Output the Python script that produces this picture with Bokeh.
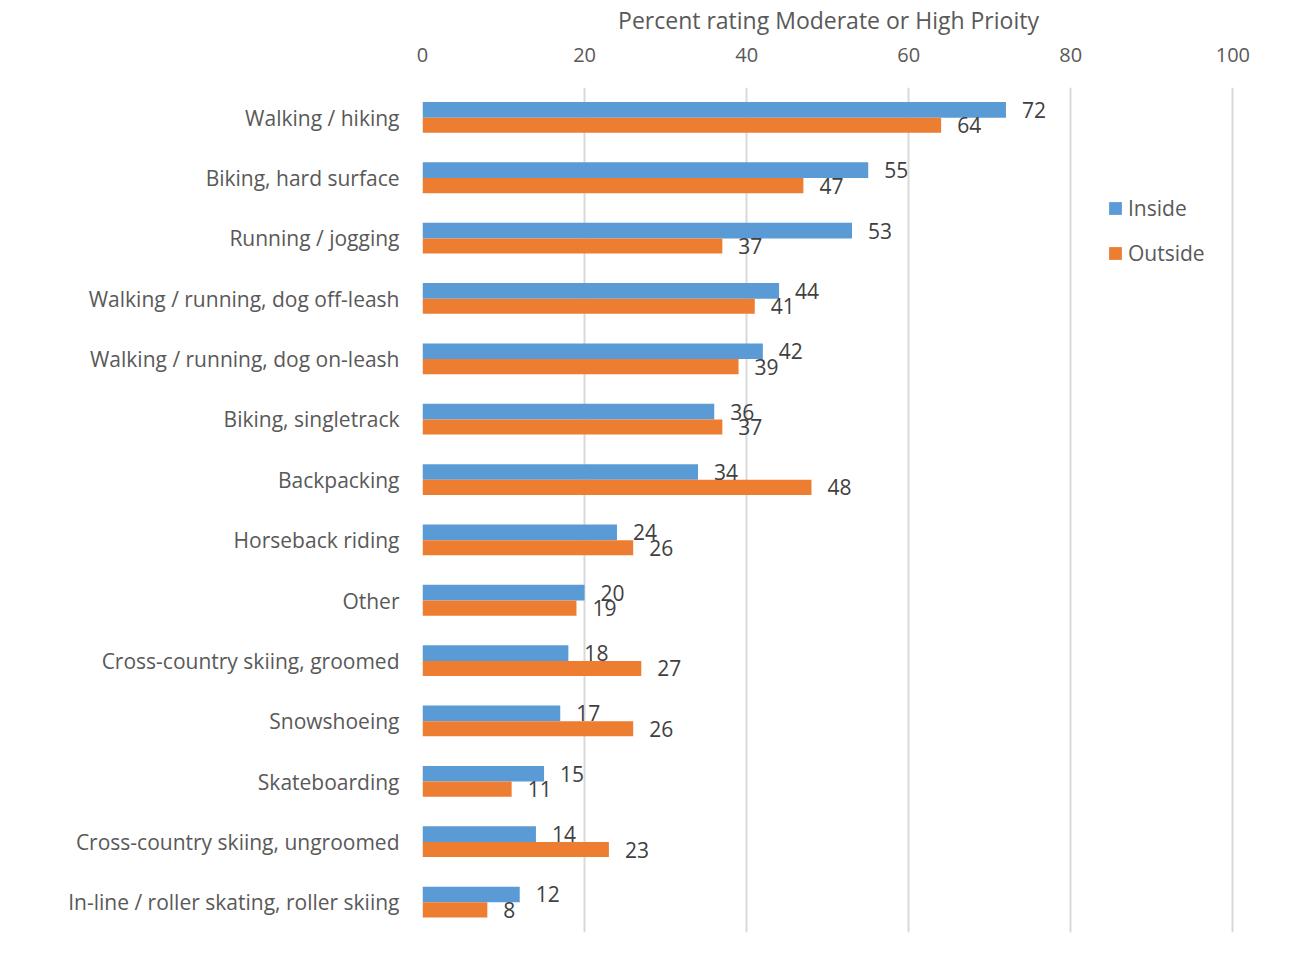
from bokeh.plotting import figure
from bokeh.models import ColumnDataSource, FactorRange, Range1d, Legend, LegendItem, FixedTicker
from bokeh.transform import dodge
from bokeh.core.properties import value
from bokeh.embed import file_html
from bokeh.resources import INLINE

categories = [
    "Walking / hiking",
    "Biking, hard surface",
    "Running / jogging",
    "Walking / running, dog off-leash",
    "Walking / running, dog on-leash",
    "Biking, singletrack",
    "Backpacking",
    "Horseback riding",
    "Other",
    "Cross-country skiing, groomed",
    "Snowshoeing",
    "Skateboarding",
    "Cross-country skiing, ungroomed",
    "In-line / roller skating, roller skiing",
]
inside = [72, 55, 53, 44, 42, 36, 34, 24, 20, 18, 17, 15, 14, 12]
outside = [64, 47, 37, 41, 39, 37, 48, 26, 19, 27, 26, 11, 23, 8]
x_ticks = [0, 20, 40, 60, 80, 100]

FONT = "Open Sans"
src = ColumnDataSource(dict(
    cat=categories, inside=inside, outside=outside,
    inside_lbl=[str(v) for v in inside], outside_lbl=[str(v) for v in outside],
))

p = figure(
    width=1275, height=944, output_backend="svg", toolbar_location=None,
    y_range=FactorRange(factors=list(reversed(categories)), range_padding=0),
    x_range=Range1d(0, 100.2), x_axis_location="above",
    min_border_left=422, min_border_right=41, min_border_top=87, min_border_bottom=12,
)
p.outline_line_color = None
p.ygrid.grid_line_color = None
p.xgrid.grid_line_color = "#d9d9d9"
p.xgrid.grid_line_width = 2
p.xgrid.ticker = FixedTicker(ticks=x_ticks)

xa = p.xaxis[0]
xa.ticker = FixedTicker(ticks=x_ticks)
xa.axis_line_color = None
xa.major_tick_line_color = None
xa.minor_tick_line_color = None
xa.major_label_text_font = FONT
xa.major_label_text_font_size = "20px"
xa.major_label_text_color = "#595959"
xa.major_label_standoff = 20
xa.axis_label = "Percent rating Moderate or High Prioity"
xa.axis_label_text_font = FONT
xa.axis_label_text_font_size = "23px"
xa.axis_label_text_font_style = "normal"
xa.axis_label_text_color = "#595959"
xa.axis_label_standoff = 9

ya = p.yaxis[0]
ya.axis_line_color = None
ya.major_tick_line_color = None
ya.minor_tick_line_color = None
ya.major_label_text_font = FONT
ya.major_label_text_font_size = "21px"
ya.major_label_text_color = "#595959"
ya.major_label_standoff = 17

r_in = p.hbar(y=dodge("cat", 0.13, range=p.y_range), right="inside", left=0, height=0.26,
              source=src, fill_color="#5B9BD5", line_color=None)
r_out = p.hbar(y=dodge("cat", -0.125, range=p.y_range), right="outside", left=0, height=0.25,
               source=src, fill_color="#ED7D31", line_color=None)

p.text(x="inside", y=dodge("cat", 0.13, range=p.y_range), text="inside_lbl", source=src,
       x_offset=16, text_baseline="middle", text_align="left",
       text_font=value(FONT), text_font_size="21px", text_color="#404040")
p.text(x="outside", y=dodge("cat", -0.125, range=p.y_range), text="outside_lbl", source=src,
       x_offset=16, text_baseline="middle", text_align="left",
       text_font=value(FONT), text_font_size="21px", text_color="#404040")

legend = Legend(
    items=[LegendItem(label="Inside", renderers=[r_in]), LegendItem(label="Outside", renderers=[r_out])],
    location=(685, 665), orientation="vertical",
    glyph_width=16, glyph_height=16, label_standoff=5, spacing=17,
    padding=0, margin=0, border_line_color=None, background_fill_alpha=0,
    label_text_font=FONT, label_text_font_size="21px", label_text_color="#595959",
)
p.add_layout(legend)

open("out.html", "w").write(file_html(p, INLINE))
